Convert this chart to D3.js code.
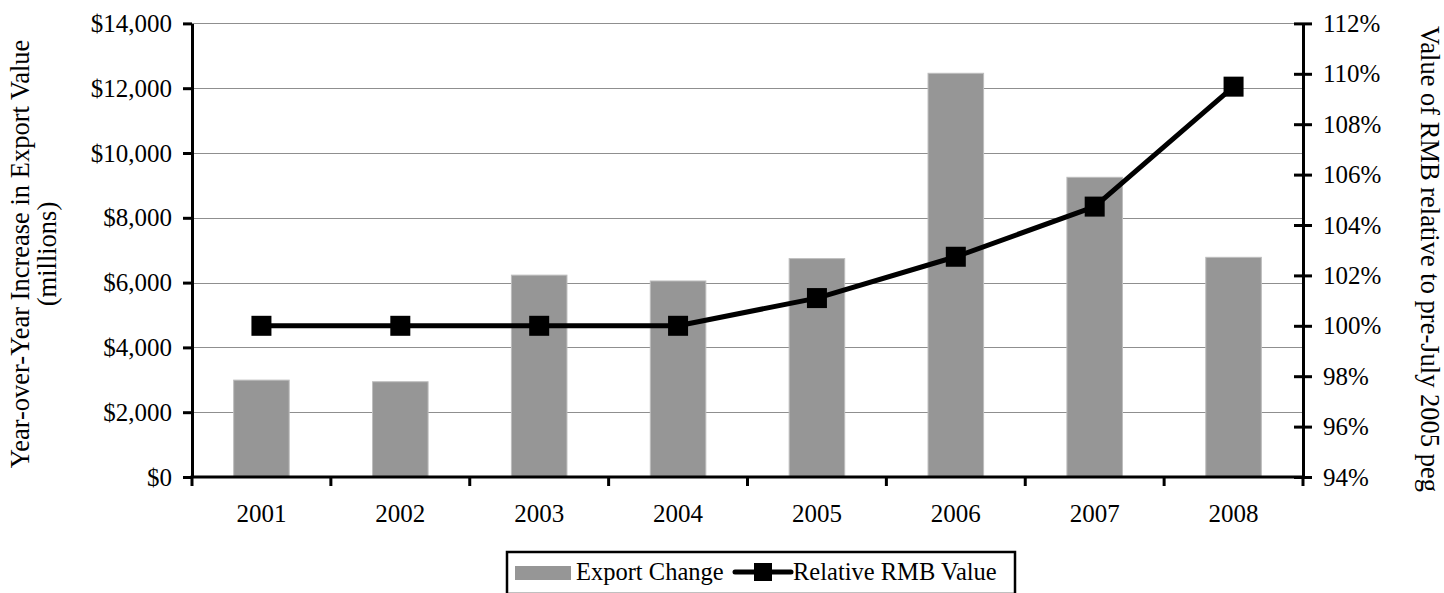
<!DOCTYPE html>
<html><head><meta charset="utf-8">
<script src="https://cdn.jsdelivr.net/npm/d3@7/dist/d3.min.js"></script>
<style>
html,body{margin:0;padding:0;background:#fff;}
svg{display:block;font-family:"Liberation Serif","Times New Roman",serif;}
</style></head>
<body>
<svg id="chart" width="1444" height="593"></svg>
<script>
const years = ["2001","2002","2003","2004","2005","2006","2007","2008"];
const exportChange = [2990, 2940, 6230, 6050, 6740, 12460, 9250, 6780];
const rmbValue = [100.0, 100.0, 100.0, 100.0, 101.1, 102.74, 104.73, 109.49];
const leftTicks = [0, 2000, 4000, 6000, 8000, 10000, 12000, 14000];
const rightTicks = [94, 96, 98, 100, 102, 104, 106, 108, 110, 112];
const leftTitle = ["Year-over-Year Increase in Export Value", "(millions)"];
const rightTitle = "Value of RMB relative to pre-July 2005 peg";
const legendLabels = ["Export Change", "Relative RMB Value"];

const svg = d3.select("#chart");
const L = 192, R = 1303, T = 23.4, B = 477;
const fs = 25, fsTitle = 26.5, fsLeg = 24.5;
const FF = "Liberation Serif";

const x = d3.scaleBand().domain(years).range([L, R]).paddingInner(0).paddingOuter(0);
const yL = d3.scaleLinear().domain([0, 14000]).range([B, T]);
const yR = d3.scaleLinear().domain([94, 112]).range([B, T]);

// gridlines
svg.append("g").selectAll("line").data(leftTicks.filter(d => d > 0)).join("line")
  .attr("x1", L).attr("x2", R)
  .attr("y1", d => Math.round(yL(d)) + 0.5).attr("y2", d => Math.round(yL(d)) + 0.5)
  .attr("stroke", "#8f8f8f").attr("stroke-width", 1);

// bars
const bw = x.bandwidth() * 0.4;
svg.append("g").selectAll("rect").data(years).join("rect")
  .attr("x", (d) => x(d) + x.bandwidth() / 2 - bw / 2)
  .attr("width", bw)
  .attr("y", (d, i) => yL(exportChange[i]))
  .attr("height", (d, i) => B - yL(exportChange[i]))
  .attr("fill", "#969696").attr("stroke", "#bdbdbd").attr("stroke-width", 1);

// left axis
const axL = d3.axisLeft(yL).tickValues(leftTicks).tickSizeInner(9).tickSizeOuter(0)
  .tickPadding(11).tickFormat(d => "$" + d3.format(",")(d));
const gL = svg.append("g").attr("transform", `translate(${L},0)`).call(axL);
gL.attr("font-family", FF);
gL.select(".domain").attr("stroke", "#000").attr("stroke-width", 3);
gL.selectAll(".tick line").attr("stroke", "#000").attr("stroke-width", 3);
gL.selectAll(".tick text").attr("font-size", fs).attr("fill", "#000").attr("font-family", FF);

// right axis
const axR = d3.axisRight(yR).tickValues(rightTicks).tickSizeInner(9).tickSizeOuter(0)
  .tickPadding(11).tickFormat(d => d + "%");
const gR = svg.append("g").attr("transform", `translate(${R},0)`).call(axR);
gR.attr("font-family", FF);
gR.select(".domain").attr("stroke", "#000").attr("stroke-width", 3);
gR.selectAll(".tick line").attr("x1", -9).attr("stroke", "#000").attr("stroke-width", 3);
gR.selectAll(".tick text").attr("font-size", fs).attr("fill", "#000").attr("font-family", FF);

// bottom axis
const axB = d3.axisBottom(x).tickSize(0).tickPadding(27);
const gB = svg.append("g").attr("transform", `translate(0,${B})`).call(axB);
gB.attr("font-family", FF);
gB.select(".domain").remove();
gB.selectAll(".tick text").attr("font-size", fs).attr("fill", "#000").attr("font-family", FF);
svg.append("line").attr("x1", L - 1.5).attr("x2", R + 1.5).attr("y1", B).attr("y2", B)
  .attr("stroke", "#000").attr("stroke-width", 3);
const bounds = years.map(d => x(d)).concat([R]);
svg.append("g").selectAll("line").data(bounds).join("line")
  .attr("x1", d => d).attr("x2", d => d).attr("y1", B).attr("y2", B + 9)
  .attr("stroke", "#000").attr("stroke-width", 3);

// line series
const cx = d => x(d) + x.bandwidth() / 2;
const lineGen = d3.line().x((d, i) => cx(years[i])).y(d => yR(d));
svg.append("path").datum(rmbValue).attr("d", lineGen)
  .attr("fill", "none").attr("stroke", "#000").attr("stroke-width", 5).attr("stroke-linejoin", "round");
const ms = 20;
svg.append("g").selectAll("rect").data(rmbValue).join("rect")
  .attr("x", (d, i) => cx(years[i]) - ms / 2).attr("y", d => yR(d) - ms / 2)
  .attr("width", ms).attr("height", ms).attr("fill", "#000");

// axis titles
const lt = svg.append("text").attr("transform", `translate(0,254) rotate(-90)`)
  .attr("text-anchor", "middle").attr("font-size", fsTitle).attr("fill", "#000").attr("font-family", FF);
lt.append("tspan").attr("x", 0).attr("y", 29).text(leftTitle[0]);
lt.append("tspan").attr("x", 0).attr("y", 56).text(leftTitle[1]);

svg.append("text").attr("transform", `translate(1421,259) rotate(90)`)
  .attr("text-anchor", "middle").attr("font-size", fsTitle).attr("fill", "#000").attr("font-family", FF)
  .text(rightTitle);

// legend
const lg = svg.append("g").attr("font-family", FF);
lg.append("rect").attr("x", 507).attr("y", 552).attr("width", 508).attr("height", 42)
  .attr("fill", "#fff").attr("stroke", "#000").attr("stroke-width", 2.5);
lg.append("rect").attr("x", 515).attr("y", 566).attr("width", 56).attr("height", 14)
  .attr("fill", "#969696");
lg.append("text").attr("x", 576).attr("y", 580).attr("font-size", fsLeg).attr("fill", "#000").text(legendLabels[0]);
lg.append("line").attr("x1", 735).attr("x2", 791).attr("y1", 572).attr("y2", 572)
  .attr("stroke", "#000").attr("stroke-width", 5).attr("stroke-linecap", "round");
lg.append("rect").attr("x", 754).attr("y", 563).attr("width", 18).attr("height", 18).attr("fill", "#000");
lg.append("text").attr("x", 793).attr("y", 580).attr("font-size", fsLeg).attr("fill", "#000").text(legendLabels[1]);
</script>
</body></html>
